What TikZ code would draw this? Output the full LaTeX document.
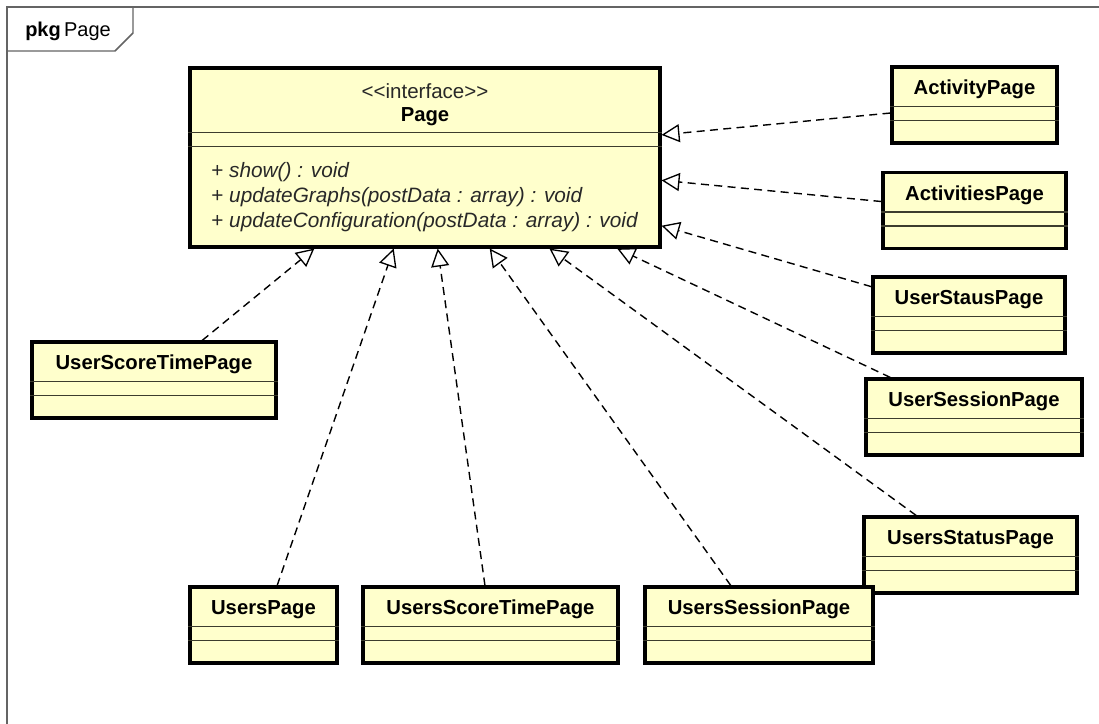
\documentclass[tikz,border=0pt]{standalone}
\usepackage{fontspec}
\setmainfont{Liberation Sans}[Ligatures=TeXOff]
\usetikzlibrary{arrows.meta,calc}
\definecolor{clsfill}{RGB}{255,255,204}
\definecolor{framegray}{RGB}{100,100,100}
\definecolor{sepcol}{RGB}{60,60,45}
\definecolor{methcol}{RGB}{40,40,40}
\newcommand\umlclass[6]{%
  \node[clsbox, minimum width=#4*0.75pt, minimum height=#5*0.75pt] (#1) at (#2,#3) {};
  \draw[sepline] ([yshift=-41*0.75pt]#1.north west) -- ([yshift=-41*0.75pt]#1.north east);
  \draw[sepline] ([yshift=-55*0.75pt]#1.north west) -- ([yshift=-55*0.75pt]#1.north east);
  \node[clsname] (#1-t) at ([yshift=-24*0.75pt]#1.north) {#6};
}
\begin{document}
\begin{tikzpicture}[x=0.75pt,y=-0.75pt,
  clsbox/.style={rectangle, draw=black, line width=2.3pt, fill=clsfill, inner sep=0pt},
  clsname/.style={font=\fontsize{15.2}{18}\selectfont\bfseries, text=black, inner sep=0pt},
  sepline/.style={draw=sepcol, line width=0.8pt},
  methtext/.style={font=\fontsize{15.6}{18}\selectfont, text=methcol, inner sep=0pt, anchor=west},
  framestyle/.style={draw=framegray, line width=1.1pt},
  real/.style={draw=black, line width=1.05pt, dash pattern=on 6pt off 4pt,
    -{Triangle[open, length=13.5pt, width=13.5pt, line width=1pt]}},
]
\useasboundingbox (0,0) rectangle (1099,724);
\clip (0,0) rectangle (1099,724);
\fill[white] (0,0) rectangle (1099,724);

% package frame
\draw[framestyle] (7,740) -- (7,7) -- (1110,7);
\draw[framestyle] (7,51) -- (115,51) -- (133,33) -- (133,7);
\node[anchor=west, inner sep=0pt, font=\fontsize{15}{17}\selectfont, text=black] (pkg) at (25,31) {\textbf{pkg}\hspace{2.5pt}Page};

% interface Page
\node[clsbox, minimum width=470*0.75pt, minimum height=179*0.75pt] (page) at (425,157.5) {};
\draw[sepline] ([yshift=-66*0.75pt]page.north west) -- ([yshift=-66*0.75pt]page.north east);
\draw[sepline] ([yshift=-80*0.75pt]page.north west) -- ([yshift=-80*0.75pt]page.north east);
\node[font=\fontsize{15.4}{18}\selectfont, text=methcol, inner sep=0pt] (page-st) at (425,91) {<<interface>>};
\node[clsname] (page-t) at (425,117) {Page};
\node[methtext] (m1) at (211,172) {+ \textit{show() : void}};
\node[methtext] (m2) at (211,197) {+ \textit{updateGraphs(postData : array) : void}};
\node[methtext] (m3) at (211,222) {+ \textit{updateConfiguration(postData : array) : void}};

% classes
\umlclass{act}{974.5}{105}{165}{76}{ActivityPage}
\umlclass{acts}{974.5}{210.5}{183}{76}{ActivitiesPage}
\umlclass{ustaus}{969}{315}{192}{76}{UserStausPage}
\umlclass{usess}{974}{417}{216}{76}{UserSessionPage}
\umlclass{usstat}{970.5}{555}{213}{76}{UsersStatusPage}
\umlclass{uscore}{154}{380}{244}{76}{UserScoreTimePage}
\umlclass{users}{263.5}{625}{147}{76}{UsersPage}
\umlclass{usscore}{490.5}{625}{255}{76}{UsersScoreTimePage}
\umlclass{ussess}{759}{625}{228}{76}{UsersSessionPage}

% realizations
\draw[real] (act) -- (page);
\draw[real] (acts) -- (page);
\draw[real] (ustaus) -- (page);
\draw[real] (usess) -- (page);
\draw[real] (usstat) -- (page);
\draw[real] (uscore) -- (page);
\draw[real] (users) -- (page);
\draw[real] (usscore) -- (page);
\draw[real] (ussess) -- (page);
\end{tikzpicture}
\end{document}
